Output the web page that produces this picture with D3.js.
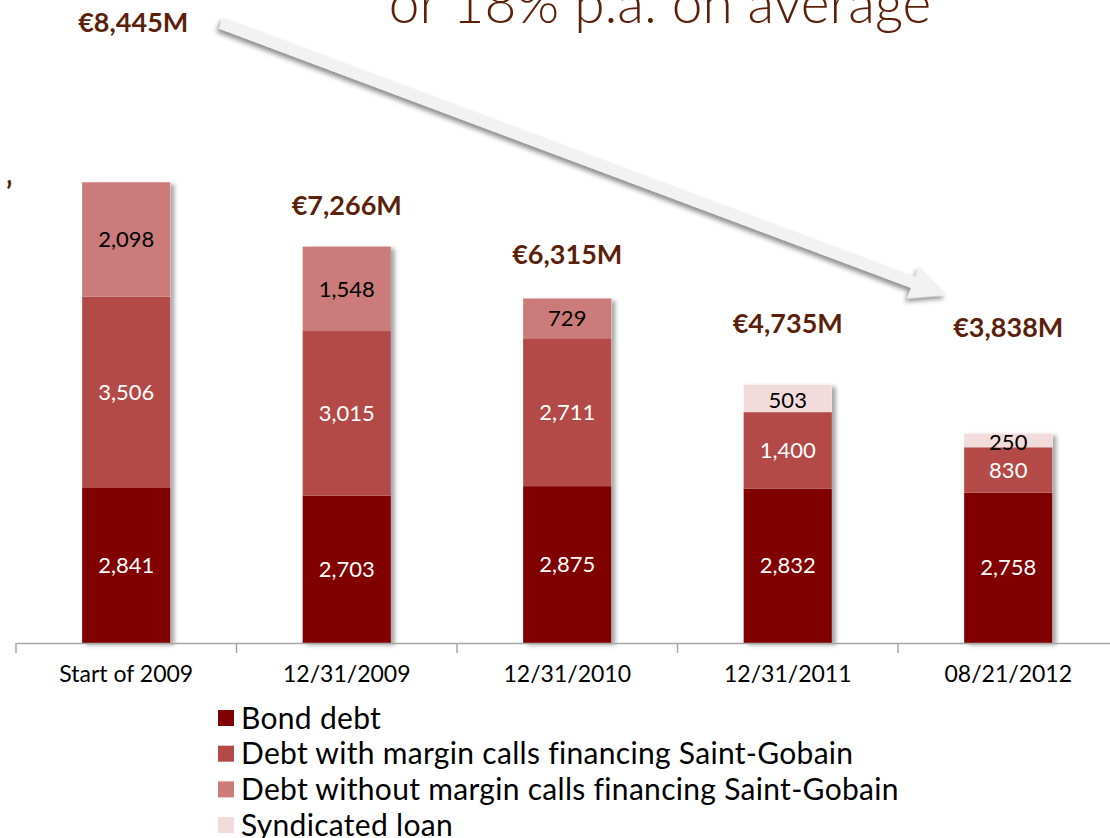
<!DOCTYPE html>
<html>
<head>
<meta charset="utf-8">
<script src="https://cdn.jsdelivr.net/npm/d3@7"></script>
<style>
  html, body { margin: 0; padding: 0; background: #fff; overflow: hidden; }
  svg { display: block; font-family: Lato, "Open Sans", sans-serif; }
</style>
</head>
<body>
<svg id="chart" width="1110" height="838"></svg>
<script>
// ========================
// Data
// ========================
const categories = ["Start of 2009", "12/31/2009", "12/31/2010", "12/31/2011", "08/21/2012"];
const seriesNames = [
  "Bond debt",
  "Debt with margin calls financing Saint-Gobain",
  "Debt without margin calls financing Saint-Gobain",
  "Syndicated loan"
];
const bondDebt       = [2841, 2703, 2875, 2832, 2758];
const withMargin     = [3506, 3015, 2711, 1400, 830];
const withoutMargin  = [2098, 1548, 729, 0, 0];
const syndicatedLoan = [0, 0, 0, 503, 250];
const totalLabels    = ["€8,445M", "€7,266M", "€6,315M", "€4,735M", "€3,838M"];
const titleText      = "or 18% p.a. on average";

// ========================
// Setup
// ========================
const colors = ["#800000", "#B34A48", "#CB7B7A", "#F2DCDB"];
const labelColors = ["#ffffff", "#ffffff", "#000000", "#000000"];
const brown = "#5B1F0A";

const baseY = 643;
const svg = d3.select("#chart");

const defs = svg.append("defs");
defs.append("filter").attr("id", "barShadow")
  .attr("x", "-20%").attr("y", "-5%").attr("width", "150%").attr("height", "115%")
  .append("feDropShadow")
  .attr("dx", 4).attr("dy", 2).attr("stdDeviation", 2)
  .attr("flood-color", "#000").attr("flood-opacity", 0.35);
defs.append("filter").attr("id", "arrowShadow")
  .attr("x", "-10%").attr("y", "-50%").attr("width", "120%").attr("height", "200%")
  .append("feDropShadow")
  .attr("dx", -1).attr("dy", 4).attr("stdDeviation", 2.5)
  .attr("flood-color", "#000").attr("flood-opacity", 0.45);

// bands for ticks, bars inside
const xBand = d3.scaleBand().domain(categories).range([16, 1118.5]).padding(0);
const xBar = d3.scaleBand().domain(categories).range([16, 1118.5])
  .paddingInner(0.6).paddingOuter(0.3);
const y = d3.scaleLinear().domain([0, 9000]).range([baseY, baseY - 491]);

const table = categories.map((c, i) => ({
  cat: c,
  s0: bondDebt[i], s1: withMargin[i], s2: withoutMargin[i], s3: syndicatedLoan[i]
}));
const keys = ["s0", "s1", "s2", "s3"];
const stacked = d3.stack().keys(keys)(table);
const total = d => d.s0 + d.s1 + d.s2 + d.s3;

// Title (cut off at top, as on the slide)
svg.append("text")
  .attr("x", 660).attr("y", 23)
  .attr("text-anchor", "middle")
  .attr("fill", brown)
  .style("font-size", "55px")
  .style("font-weight", 300)
  .text(titleText);

// stray glyph at left edge
svg.append("text")
  .attr("x", 6).attr("y", 202)
  .attr("fill", brown)
  .style("font-size", "28px").style("font-weight", "bold")
  .text("’");

// ========================
// Arrow
// ========================
const aStart = [221, 23], aEnd = [947, 295];
const aLen = Math.hypot(aEnd[0] - aStart[0], aEnd[1] - aStart[1]);
const aAng = Math.atan2(aEnd[1] - aStart[1], aEnd[0] - aStart[0]) * 180 / Math.PI;
const headLen = 36, headHalf = 17, shaftHalf = 6;
svg.append("g")
  .attr("transform", `translate(${aStart[0]},${aStart[1]}) rotate(${aAng})`)
  .append("path")
  .attr("d", `M0,${-shaftHalf} L${aLen - headLen},${-shaftHalf} L${aLen - headLen},${-headHalf}
              L${aLen},0 L${aLen - headLen},${headHalf} L${aLen - headLen},${shaftHalf} L0,${shaftHalf} Z`)
  .attr("fill", "#F2F2F2")
  .attr("filter", "url(#arrowShadow)");

// ========================
// Bars
// ========================
// shadow behind each full bar
svg.append("g")
  .selectAll("rect")
  .data(table)
  .join("rect")
  .attr("x", d => xBar(d.cat))
  .attr("width", xBar.bandwidth())
  .attr("y", d => y(total(d)))
  .attr("height", d => y(0) - y(total(d)))
  .attr("fill", "#fff")
  .attr("filter", "url(#barShadow)");

const layers = svg.append("g").selectAll("g")
  .data(stacked)
  .join("g")
  .attr("fill", (d, i) => colors[i]);

layers.selectAll("rect")
  .data(d => d.filter(p => p[1] - p[0] > 0))
  .join("rect")
  .attr("x", d => xBar(d.data.cat))
  .attr("width", xBar.bandwidth())
  .attr("y", d => y(d[1]))
  .attr("height", d => y(d[0]) - y(d[1]));

// segment value labels
stacked.forEach((layer, li) => {
  svg.append("g").selectAll("text")
    .data(layer.filter(p => p[1] - p[0] > 0))
    .join("text")
    .attr("x", d => xBar(d.data.cat) + xBar.bandwidth() / 2)
    .attr("y", d => (y(d[0]) + y(d[1])) / 2 + (li === 3 ? 2 : 0))
    .attr("dy", "0.35em")
    .attr("text-anchor", "middle")
    .attr("fill", labelColors[li])
    .style("font-size", "22px")
    .text(d => d3.format(",")(d[1] - d[0]));
});

// total labels (offsets above bar tops follow the slide layout)
const totalOffsets = [160, 41, 44, 61, 106];
svg.append("g").selectAll("text")
  .data(table)
  .join("text")
  .attr("x", (d, i) => xBar(d.cat) + xBar.bandwidth() / 2 + (i === 0 ? 7 : 0))
  .attr("y", (d, i) => y(total(d)) - totalOffsets[i])
  .attr("dy", "0.35em")
  .attr("text-anchor", "middle")
  .attr("fill", brown)
  .style("font-size", "27px")
  .style("font-weight", "bold")
  .text((d, i) => totalLabels[i]);

// ========================
// Axis
// ========================
const axis = svg.append("g")
  .attr("transform", `translate(0,${baseY})`)
  .call(d3.axisBottom(xBand).tickSize(0).tickSizeOuter(0).tickPadding(23));
axis.select(".domain").attr("stroke", "#A6A6A6").attr("stroke-width", 1.5);
axis.selectAll("text").style("font-size", "23px").style("font-family", "Lato, sans-serif").attr("fill", "#000");
axis.append("g").selectAll("line")
  .data(categories)
  .join("line")
  .attr("x1", d => xBand(d)).attr("x2", d => xBand(d))
  .attr("y1", 0).attr("y2", 10)
  .attr("stroke", "#A6A6A6").attr("stroke-width", 1.5);

// ========================
// Legend
// ========================
const legend = svg.append("g").attr("transform", "translate(218,718)");
const rows = legend.selectAll("g")
  .data(seriesNames)
  .join("g")
  .attr("transform", (d, i) => `translate(0,${i * 35.7})`);
rows.append("rect")
  .attr("x", 0).attr("y", -8).attr("width", 16).attr("height", 16)
  .attr("fill", (d, i) => colors[i]);
rows.append("text")
  .attr("x", 23).attr("y", 0).attr("dy", "0.35em")
  .attr("fill", "#000")
  .style("font-size", "30px")
  .style("letter-spacing", "0.3px")
  .text(d => d);
</script>
</body>
</html>
